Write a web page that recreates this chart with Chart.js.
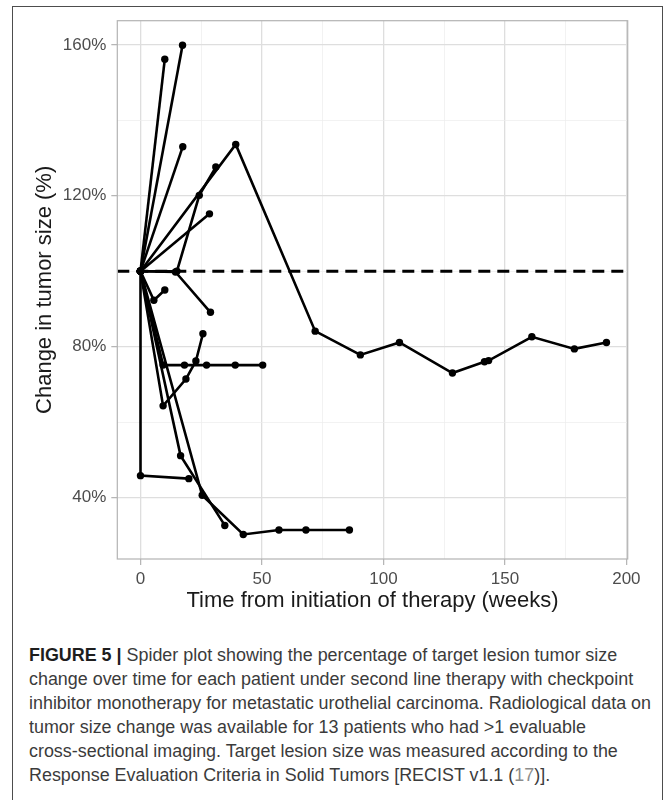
<!DOCTYPE html>
<html>
<head>
<meta charset="utf-8">
<script src="https://cdn.jsdelivr.net/npm/chart.js@4.4.1/dist/chart.umd.min.js"></script>
<style>
  html, body { margin: 0; padding: 0; background: #fff; }
  body { width: 670px; height: 800px; overflow: hidden; position: relative; font-family: "Liberation Sans", Arial, sans-serif; }
  #frame { position: absolute; left: 12px; top: 6px; width: 649px; height: 830px; border: 1.5px solid #4d4d4d; }
  #plot { position: absolute; left: 0; top: 0; }
  #caption { position: absolute; left: 29px; top: 643px; font-size: 17.5px; line-height: 24px; color: #3b3b3b; white-space: nowrap; transform-origin: 0 0; }
  #caption b { color: #1e1e1e; }
  #caption .ref { color: #8c8c8c; }
</style>
</head>
<body>
<div id="frame"></div>
<canvas id="plot" width="670" height="640"></canvas>
<div id="caption">
  <div><b>FIGURE 5 |</b> Spider plot showing the percentage of target lesion tumor size</div>
  <div>change over time for each patient under second line therapy with checkpoint</div>
  <div id="longLine">inhibitor monotherapy for metastatic urothelial carcinoma. Radiological data on</div>
  <div>tumor size change was available for 13 patients who had &gt;1 evaluable</div>
  <div>cross-sectional imaging. Target lesion size was measured according to the</div>
  <div>Response Evaluation Criteria in Solid Tumors [RECIST v1.1 (<span class="ref">17</span>)].</div>
</div>
<script>
// axis ranges and ticks
const xMin = -9.55, xMax = 200.55;
const yMin = 23.7, yMax = 166.4;
const xGrid = [0, 25, 50, 75, 100, 125, 150, 175, 200];
const xLabels = [0, 50, 100, 150, 200];
const yGrid = [40, 60, 80, 100, 120, 140, 160];
const yLabels = [40, 80, 120, 160];
const refLevel = 100;

// one pair of arrays per patient: weeks, tumor size (%)
const weeks1 = [0, 10.0];                 const size1 = [100, 156.2];
const weeks2 = [0, 17.3];                 const size2 = [100, 159.9];
const weeks3 = [0, 17.4];                 const size3 = [100, 133.0];
const weeks4 = [0, 39.2, 71.9, 90.5, 106.6, 128.4, 141.6, 143.3, 161.1, 178.6, 191.8];
const size4  = [100, 133.6, 84.1, 77.8, 81.1, 73.0, 76.0, 76.3, 82.6, 79.4, 81.1];
const weeks5 = [0, 15.0, 24.2, 31.0];     const size5 = [100, 100, 120.1, 127.6];
const weeks6 = [0, 28.4];                 const size6 = [100, 115.2];
const weeks7 = [0, 14.4, 28.8];           const size7 = [100, 99.8, 89.1];
const weeks8 = [0, 5.5, 10.0];            const size8 = [100, 92.3, 95.0];
const weeks9 = [0, 9.3, 18.1, 27.2, 39.0, 50.3];
const size9  = [100, 75.1, 75.1, 75.1, 75.1, 75.1];
const weeks10 = [0, 9.3, 18.7, 22.8, 25.7];  const size10 = [100, 64.3, 71.4, 76.2, 83.4];
const weeks11 = [0, 0, 19.9];                const size11 = [100, 45.8, 45.0];
const weeks12 = [0, 16.5, 34.7];             const size12 = [100, 51.1, 32.6];
const weeks13 = [0, 25.4, 42.3, 57.0, 68.1, 86.0];
const size13  = [100, 40.6, 30.2, 31.4, 31.4, 31.4];

const patients = [
  [weeks1, size1], [weeks2, size2], [weeks3, size3], [weeks4, size4], [weeks5, size5],
  [weeks6, size6], [weeks7, size7], [weeks8, size8], [weeks9, size9], [weeks10, size10],
  [weeks11, size11], [weeks12, size12], [weeks13, size13]
];

const datasets = patients.map(([w, s]) => ({
  data: w.map((v, i) => ({x: v, y: s[i]})),
  showLine: true,
  borderColor: '#000',
  backgroundColor: '#000',
  borderWidth: 2.6,
  pointRadius: 3.7,
  pointBorderWidth: 0,
  pointHoverRadius: 3.7,
  tension: 0
}));

datasets.push({
  data: [{x: xMin, y: refLevel}, {x: xMax, y: refLevel}],
  showLine: true,
  borderColor: '#000',
  borderWidth: 3,
  borderDash: [12, 7],
  pointRadius: 0,
  pointHoverRadius: 0
});

const panelBorder = {
  id: 'panelBorder',
  afterDatasetsDraw(c) {
    const a = c.chartArea, ctx = c.ctx;
    ctx.save();
    ctx.strokeStyle = '#b3b3b3';
    ctx.lineWidth = 1.2;
    ctx.strokeRect(a.left, a.top, a.right - a.left, a.bottom - a.top);
    ctx.restore();
  }
};

function gridStyle(majors) {
  const isMajor = ctx => ctx.tick && majors.includes(ctx.tick.value);
  return {
    color: ctx => isMajor(ctx) ? '#dedede' : '#ececec',
    lineWidth: ctx => isMajor(ctx) ? 1.3 : 0.7,
    tickColor: ctx => isMajor(ctx) ? '#b3b3b3' : 'rgba(0,0,0,0)',
    tickWidth: 1.2,
    tickLength: 6,
    drawTicks: true
  };
}

const tickFont = {family: 'Liberation Sans', size: 17};
const titleFont = {family: 'Liberation Sans', size: 22};

new Chart(document.getElementById('plot'), {
  type: 'scatter',
  data: {datasets},
  options: {
    responsive: false,
    animation: false,
    layout: {padding: {left: 0, top: 20.7, right: 42.3, bottom: 0}},
    plugins: {legend: {display: false}, tooltip: {enabled: false}},
    scales: {
      x: {
        type: 'linear', min: xMin, max: xMax,
        afterBuildTicks: s => { s.ticks = xGrid.map(v => ({value: v})); },
        afterFit: s => { s.height = 81; },
        grid: gridStyle(xLabels),
        border: {display: false},
        ticks: {autoSkip: false, maxRotation: 0, padding: 4, color: '#4d4d4d', font: tickFont,
          callback: v => xLabels.includes(v) ? String(v) : ''},
        title: {display: true, text: 'Time from initiation of therapy (weeks)', color: '#1a1a1a',
          font: titleFont, padding: {top: 0, bottom: 26}}
      },
      y: {
        type: 'linear', min: yMin, max: yMax,
        afterBuildTicks: s => { s.ticks = yGrid.map(v => ({value: v})); },
        afterFit: s => { s.width = 117.3; },
        grid: gridStyle(yLabels),
        border: {display: false},
        ticks: {autoSkip: false, padding: 5, color: '#4d4d4d', font: tickFont,
          callback: v => yLabels.includes(v) ? v + '%' : ''},
        title: {display: true, text: 'Change in tumor size (%)', color: '#1a1a1a',
          font: titleFont, padding: {top: 32, bottom: 0}}
      }
    }
  },
  plugins: [panelBorder]
});

// squeeze caption so the longest line ends where it does in the figure
const cap = document.getElementById('caption');
const lw = document.getElementById('longLine').getBoundingClientRect().width;
cap.style.transform = 'scaleX(' + (622 / lw) + ')';
</script>
</body>
</html>
